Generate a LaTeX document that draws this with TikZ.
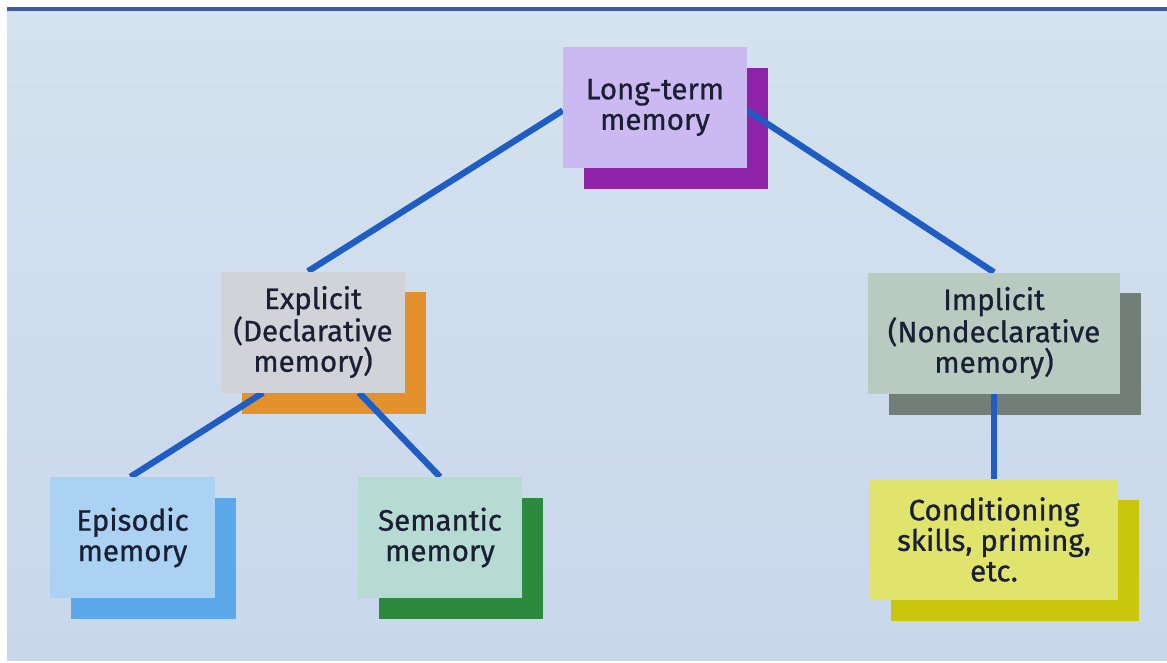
\documentclass[tikz,border=0pt]{standalone}
\usepackage{fontspec}
\setmainfont{Fira Sans}
\newfontfamily\boxfont{Fira Sans}[FakeBold=0.8]
\usetikzlibrary{calc}

\definecolor{pagebg}{HTML}{D5E2EF}
\definecolor{pagebgdark}{HTML}{C8D7EA}
\definecolor{rule}{HTML}{3A5FA8}
\definecolor{link}{HTML}{1F5CC4}
\definecolor{ink}{HTML}{1A1F33}
\definecolor{ltFront}{HTML}{CBB9F2}
\definecolor{ltBack}{HTML}{8E22A8}
\definecolor{exFront}{HTML}{D2D3D8}
\definecolor{exBack}{HTML}{E3912C}
\definecolor{imFront}{HTML}{B9CAC1}
\definecolor{imBack}{HTML}{717F78}
\definecolor{epFront}{HTML}{ABD2F3}
\definecolor{epBack}{HTML}{5BA9EA}
\definecolor{seFront}{HTML}{B5DBD3}
\definecolor{seBack}{HTML}{2B8A3E}
\definecolor{coFront}{HTML}{E0E36C}
\definecolor{coBack}{HTML}{C8C70E}

\pgfdeclarelayer{page}
\pgfdeclarelayer{back}
\pgfdeclarelayer{mid}
\pgfsetlayers{page,back,mid,main}

\tikzset{
  box/.style={rectangle, inner sep=0pt, align=center, text=ink,
    font=\boxfont\fontsize{29.5}{30.5}\selectfont, minimum height=121pt},
  connector/.style={draw=link, line width=6.3pt},
}

\begin{document}
\begin{tikzpicture}[x=1pt, y=-1pt]
  \useasboundingbox (0,0) rectangle (1167,662);

  % page and top rule
  \begin{pgfonlayer}{page}
    \fill[white] (0,0) rectangle (1167,662);
    \shade[top color=pagebg, bottom color=pagebgdark] (7,11) rectangle (1167,660);
    \fill[rule] (7,7) rectangle (1167,11);
  \end{pgfonlayer}

  % front boxes
  \node[box, fill=ltFront, minimum width=184pt] (lt) at (655,107.5) {Long-term\\memory};
  \node[box, fill=exFront, minimum width=184pt] (ex) at (313,332) {Explicit\\(Declarative\\memory)};
  \node[box, fill=imFront, minimum width=252pt] (im) at (994,333) {Implicit\\(Nondeclarative\\memory)};
  \node[box, fill=epFront, minimum width=165pt] (ep) at (132.5,537.5) {Episodic\\memory};
  \node[box, fill=seFront, minimum width=164pt] (se) at (440,537.5) {Semantic\\memory};
  \node[box, fill=coFront, minimum width=248pt] (co) at (994,539.5) {Conditioning\\skills, priming,\\etc.};

  % offset blocks behind each box
  \begin{pgfonlayer}{back}
    \foreach \n/\c in {lt/ltBack, ex/exBack, im/imBack, ep/epBack, se/seBack, co/coBack}{
      \fill[\c] ([shift={(21,21)}]\n.north west) rectangle ([shift={(21,21)}]\n.south east);
    }
  \end{pgfonlayer}

  % connectors
  \begin{pgfonlayer}{mid}
    \draw[connector] ([yshift=-3pt]lt.west) -- ([xshift=-5pt]ex.north);
    \draw[connector] ([yshift=-3pt]lt.east) -- (im.north);
    \draw[connector] ([xshift=-50pt]ex.south) -- ([xshift=-2pt]ep.north);
    \draw[connector] ([xshift=46pt]ex.south) -- (se.north);
    \draw[connector] (im.south) -- (co.north);
  \end{pgfonlayer}
\end{tikzpicture}
\end{document}
